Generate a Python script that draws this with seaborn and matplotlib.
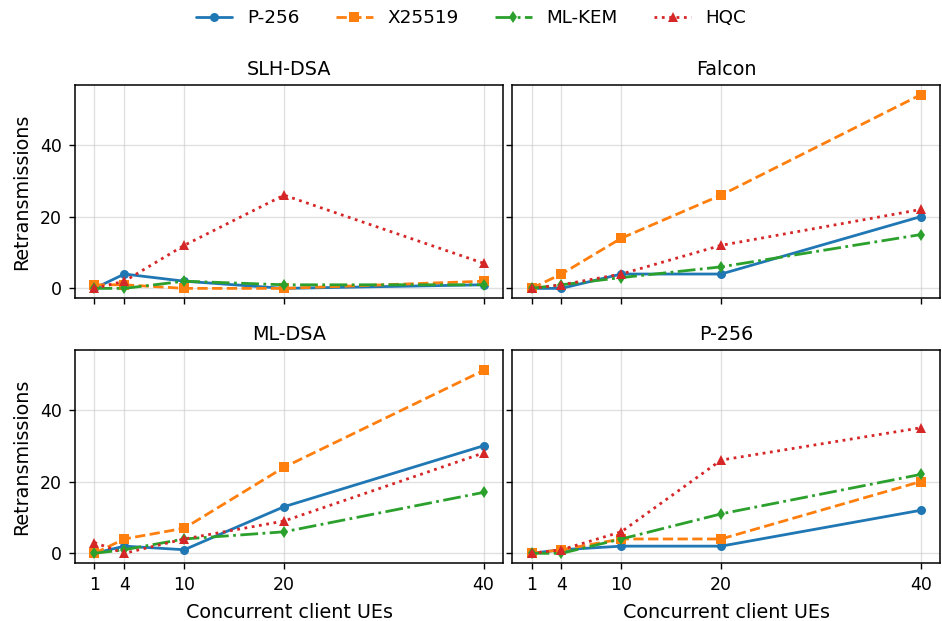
import matplotlib
matplotlib.use("Agg")
import matplotlib.pyplot as plt
import seaborn as sns
import pandas as pd

ues = [1, 4, 10, 20, 40]
panels = ["SLH-DSA", "Falcon", "ML-DSA", "P-256"]
series = ["P-256", "X25519", "ML-KEM", "HQC"]

slh_p256 = [0, 4, 2, 0, 1]
slh_x25519 = [1, 1, 0, 0, 2]
slh_mlkem = [0, 0, 2, 1, 1]
slh_hqc = [0, 2, 12, 26, 7]

falcon_p256 = [0, 0, 4, 4, 20]
falcon_x25519 = [0, 4, 14, 26, 54]
falcon_mlkem = [0, 1, 3, 6, 15]
falcon_hqc = [0, 1, 4, 12, 22]

mldsa_p256 = [0, 2, 1, 13, 30]
mldsa_x25519 = [0, 4, 7, 24, 51]
mldsa_mlkem = [0, 1, 4, 6, 17]
mldsa_hqc = [3, 0, 4, 9, 28]

p256_p256 = [0, 1, 2, 2, 12]
p256_x25519 = [0, 1, 4, 4, 20]
p256_mlkem = [0, 0, 4, 11, 22]
p256_hqc = [0, 1, 6, 26, 35]

yticks = [0, 20, 40]

data = {
    "SLH-DSA": [slh_p256, slh_x25519, slh_mlkem, slh_hqc],
    "Falcon": [falcon_p256, falcon_x25519, falcon_mlkem, falcon_hqc],
    "ML-DSA": [mldsa_p256, mldsa_x25519, mldsa_mlkem, mldsa_hqc],
    "P-256": [p256_p256, p256_x25519, p256_mlkem, p256_hqc],
}

rows = []
for p in panels:
    for s, vals in zip(series, data[p]):
        for u, v in zip(ues, vals):
            rows.append({"panel": p, "series": s, "ues": u, "retx": v})
df = pd.DataFrame(rows)

sns.set_style("ticks")
plt.rcParams.update({
    "font.family": ["DejaVu Sans"],
    "font.sans-serif": ["DejaVu Sans"],
    "text.color": "black",
    "axes.labelcolor": "black",
    "xtick.color": "black",
    "ytick.color": "black",
    "axes.edgecolor": "black",
    "axes.labelpad": 6,
    "xtick.major.size": 4.5,
    "ytick.major.size": 4.5,
    "xtick.major.pad": 5,
    "ytick.major.pad": 5,
    "xtick.major.width": 1.0,
    "ytick.major.width": 1.0,
})

colors = {"P-256": "#1f77b4", "X25519": "#ff7f0e", "ML-KEM": "#2ca02c", "HQC": "#d62728"}
styles = {"P-256": "-", "X25519": "--", "ML-KEM": "-.", "HQC": ":"}
markers = {"P-256": "o", "X25519": "s", "ML-KEM": "d", "HQC": "^"}

fig, axes = plt.subplots(2, 2, figsize=(9.42, 6.21), dpi=100, sharex=True, sharey=True)
for ax, p in zip(axes.flat, panels):
    sub = df[df.panel == p]
    for s in series:
        d = sub[sub.series == s]
        sns.lineplot(data=d, x="ues", y="retx", ax=ax, color=colors[s], linestyle=styles[s],
                     marker=markers[s], markersize=6.5, markeredgewidth=0, linewidth=2, label=s,
                     legend=False)
    ax.set_title(p, fontsize=13.75, pad=7.5)
    ax.grid(True, color="#cccccc", alpha=0.6, linewidth=1.0)
    ax.set_xticks(ues)
    ax.set_yticks(yticks)
    ax.tick_params(labelsize=12.5)
    for sp in ax.spines.values():
        sp.set_linewidth(1.1)
    ax.set_xlabel("Concurrent client UEs", fontsize=13.75)
    ax.set_ylabel("Retransmissions", fontsize=13.75)

for ax in axes[0]:
    ax.set_xlabel("")
for ax in axes[:, 1]:
    ax.set_ylabel("")

handles, labels = axes[0, 0].get_legend_handles_labels()
fig.legend(handles, labels, loc="upper center", ncol=4, frameon=False, fontsize=13.2,
           bbox_to_anchor=(0.5, 1.012))
fig.subplots_adjust(left=0.0796, right=0.998, top=0.863, bottom=0.0934, wspace=0.021, hspace=0.244)
fig.savefig("out.png", dpi=100)
